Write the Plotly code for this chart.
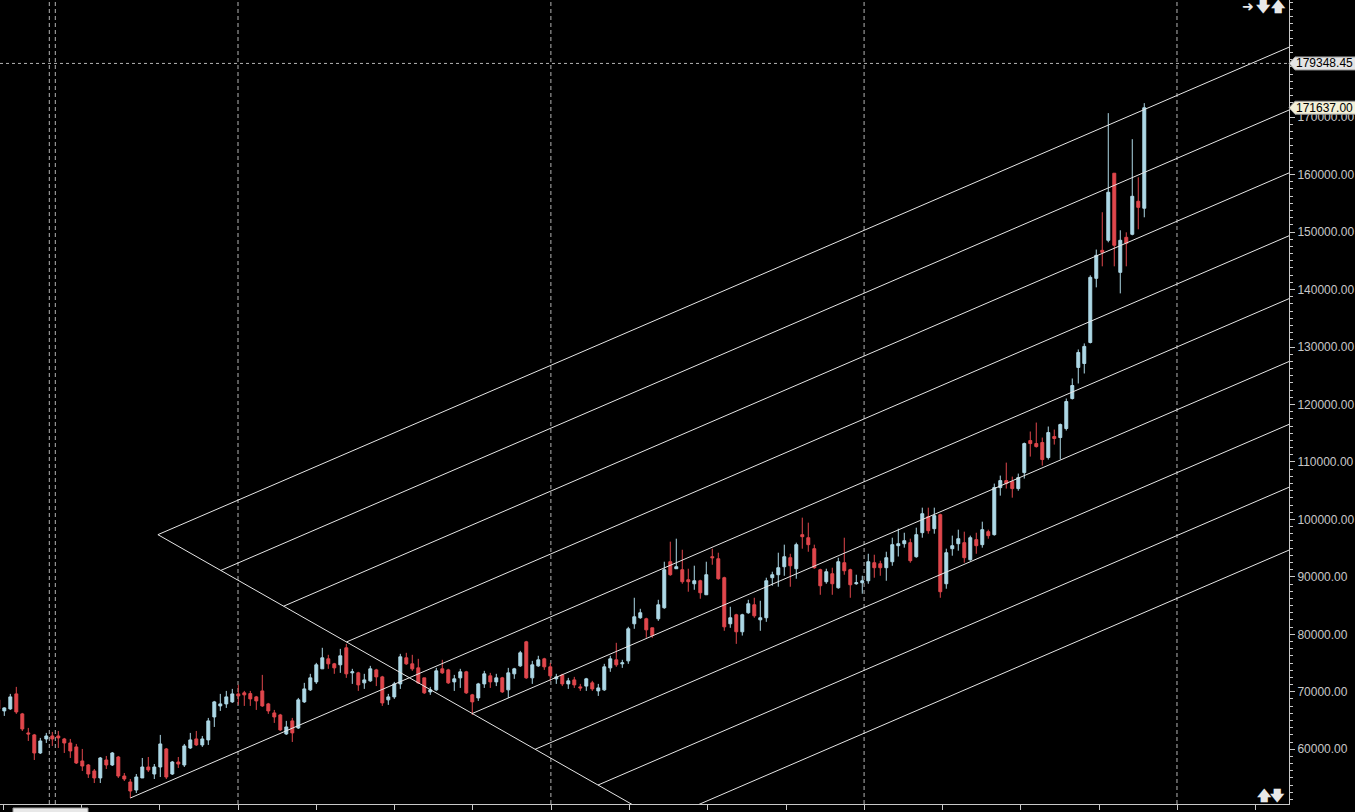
import plotly.graph_objects as go

# ---------------- data (weekly candles, index -1 .. 190) ----------------
bar_index = list(range(-1, 191))
opens = [68600, 66670, 67020, 69630, 66150, 62840, 62490, 59350, 61790, 62310,
         62310, 61790, 61090, 60400, 57960, 57260, 56220, 55000, 58130, 57260,
         58650, 55340, 54300, 52900, 55000, 56910, 55690, 56910, 60050, 55690,
         57780, 57260, 60220, 61790, 60750, 61620, 65620, 67540, 67890, 68240,
         69630, 69810, 69680, 69110, 70150, 67890, 66320, 65970, 62660, 64930,
         63700, 68240, 70330, 71720, 73990, 75730, 74860, 74690, 77650, 73290,
         73290, 71550, 71900, 73810, 72590, 68590, 69110, 71370, 75910, 74860,
         74160, 72420, 69980, 70330, 73990, 73810, 71720, 72420, 73470, 69460,
         68930, 71370, 72770, 71720, 72420, 70330, 73120, 74510, 78690, 72420,
         74510, 75730, 74340, 72250, 72940, 71370, 72070, 70850, 70990, 71550,
         70150, 70330, 74160, 75560, 74860, 75380, 81830, 82880, 82700, 81130,
         82700, 84620, 92630, 91410, 91240, 89500, 88800, 89320, 86880, 93500,
         93150, 89850, 81830, 83400, 80440, 83750, 85140, 82520, 82880, 89850,
         90370, 91760, 93330, 91410, 97340, 96810, 94900, 91240, 89150, 90540,
         88100, 92460, 91240, 88800, 88970, 89320, 92460, 92280, 91590, 92630,
         95420, 95770, 95950, 93500, 97690, 100470, 98380, 100820, 88800, 94900,
         95770, 95950, 92980, 96470, 95600, 97860, 97340, 105530, 106750, 106580,
         105360, 108140, 113710, 113190, 113370, 110760, 114420, 114240, 115810, 121030,
         126440, 127130, 130790, 141950, 146820, 148570, 160240, 142990, 149090, 149610,
         155360, 154150]
highs = [69000, 67300, 69630, 70850, 66320, 63710, 62660, 61970, 62840, 63010,
         63180, 61970, 61790, 60920, 60050, 57430, 56560, 58650, 58830, 59520,
         58830, 55860, 54820, 55690, 58480, 58650, 57430, 62490, 60220, 57960,
         58650, 60920, 62840, 63180, 62310, 65450, 68410, 69630, 70150, 70500,
         71200, 70150, 70150, 69280, 72940, 68060, 66840, 66150, 64930, 65450,
         68930, 71550, 73120, 75030, 77650, 76430, 75030, 77470, 78340, 73990,
         73470, 73120, 74510, 73990, 72770, 69630, 71720, 76600, 76780, 76430,
         75730, 72420, 70850, 74160, 75560, 73990, 72940, 73990, 73640, 69630,
         71550, 73640, 73290, 73120, 72590, 74160, 74160, 77120, 78860, 75380,
         76260, 75910, 75030, 73120, 73120, 72420, 72590, 71370, 72420, 71900,
         71370, 74860, 76260, 78520, 75560, 81300, 86360, 84440, 82880, 81130,
         86010, 92630, 96120, 96640, 94720, 91410, 91940, 89500, 92630, 94900,
         94200, 90020, 84790, 83570, 83570, 86010, 86360, 85840, 89850, 90890,
         94200, 95600, 94020, 95950, 100300, 99430, 95600, 91410, 91410, 91590,
         93330, 96810, 91410, 90370, 90190, 94020, 93850, 92800, 94370, 96810,
         98380, 97680, 96640, 98560, 102040, 102040, 102040, 100990, 94900, 97170,
         98210, 97860, 97170, 97680, 99600, 98210, 106230, 107620, 109880, 107440,
         107970, 113370, 115290, 116850, 114240, 116160, 115630, 116680, 121030, 124520,
         129570, 130620, 142470, 146960, 153450, 170700, 160240, 150310, 149960, 166170,
         159540, 172440]
lows = [66300, 65800, 66850, 66150, 63180, 61440, 58130, 59170, 61090, 60570,
        60220, 59350, 58480, 57430, 56220, 55000, 54120, 54120, 56560, 57080,
        55000, 54470, 51510, 52380, 55000, 56040, 54820, 55170, 54820, 55520,
        56740, 56910, 60050, 60570, 60400, 60750, 63880, 66670, 67190, 68060,
        67720, 67540, 67540, 66840, 67370, 66150, 64580, 63180, 62490, 61270,
        63530, 68060, 70150, 71370, 73990, 73990, 73120, 73290, 72420, 71370,
        70150, 70500, 71720, 70990, 67540, 67720, 68760, 70500, 74690, 73640,
        71370, 69630, 69460, 70150, 73120, 71370, 70150, 70670, 69630, 65970,
        68410, 70670, 70670, 70990, 69800, 68930, 72250, 74340, 72250, 71370,
        74340, 73810, 71900, 71370, 70990, 70500, 70670, 70150, 70150, 70150,
        69280, 70150, 73470, 74340, 74160, 74860, 80960, 82700, 79390, 79390,
        82340, 84440, 90190, 91410, 88800, 87410, 87750, 86190, 86880, 92110,
        89500, 80610, 81130, 78340, 79780, 83570, 82880, 80610, 82170, 88450,
        88280, 90190, 88280, 89670, 94900, 94370, 91410, 86880, 88800, 86880,
        87930, 90370, 86360, 88620, 87060, 88800, 89850, 90190, 89320, 91930,
        93540, 95080, 92460, 93330, 96810, 97510, 97510, 86360, 87930, 93680,
        94550, 92460, 92800, 94020, 95080, 96640, 97170, 104130, 105360, 103780,
        104990, 107100, 110930, 112490, 109360, 110410, 113020, 110410, 115460, 120860,
        123650, 125390, 130620, 140380, 144040, 148220, 144040, 139330, 144040, 149440,
        150480, 152570]
closes = [67000, 67190, 69110, 66490, 63530, 62660, 59350, 61440, 62310, 61790,
          61970, 61090, 59700, 57610, 57080, 55690, 55000, 58480, 57260, 59350,
          55340, 54820, 52730, 55170, 56910, 56390, 56910, 60920, 55170, 57780,
          57430, 60570, 61620, 60750, 61790, 64930, 68240, 67890, 69110, 69630,
          69280, 69460, 68760, 68410, 67540, 66670, 65620, 63360, 63880, 62840,
          68590, 70500, 72420, 74690, 75910, 74860, 74160, 76260, 73120, 73470,
          71200, 72070, 73990, 72590, 68060, 69110, 71370, 76080, 74860, 73990,
          71550, 69810, 70330, 73640, 73290, 71550, 72250, 73470, 69810, 68240,
          71370, 73120, 71720, 72420, 69980, 73290, 73990, 76780, 72420, 74690,
          75560, 74340, 72770, 72590, 71370, 71900, 71200, 70670, 72250, 70500,
          70670, 74340, 75730, 74690, 75030, 80960, 83050, 83750, 80780, 79780,
          85140, 91240, 90370, 91760, 89150, 89150, 89320, 87230, 90370, 93330,
          89670, 81300, 82880, 80440, 83400, 85320, 83220, 82880, 89320, 90370,
          91590, 93500, 91930, 95600, 96990, 95600, 91590, 88450, 90890, 88800,
          92630, 91060, 88620, 88970, 89320, 92630, 91590, 91590, 93330, 95600,
          95770, 96290, 92810, 97340, 100990, 98030, 100650, 87410, 94200, 95420,
          96640, 93330, 96810, 95420, 98210, 97170, 105530, 106750, 106230, 105360,
          107270, 113190, 113190, 112670, 110410, 115110, 114070, 116500, 120510, 123300,
          129050, 130100, 142120, 145950, 146480, 156930, 147700, 148570, 148050, 156230,
          154300, 171637]

price_ticks = [60000, 70000, 80000, 90000, 100000, 110000, 120000,
               130000, 140000, 150000, 160000, 170000]
separators = [7.5, 8.5, 38.95, 91.1, 143.3, 195.45]   # dashed period separators (bar units)
hline_price = 179348.45
last_price = 171637.00

# channel drawing parameters (bar index / price)
base_idx, base_price = 21, 51510        # anchor at the swing low
channel_slope = 450                     # price per bar
level_spacing = 10940                   # price between parallel levels
levels = [4, 3, 2, 1, 0, -1, -2, -3, -4]
diag_idx = 25.6                         # vertex of the cross line (on top level)
diag_slope = -594                       # price per bar

# ---------------- figure ----------------
X_RANGE = [-0.717, 214.12]
Y_RANGE = [50469, 190387]
PLOT_W, PLOT_H = 1289, 804

fig = go.Figure()

# channel lines
diag_price = base_price + channel_slope * (diag_idx - base_idx) + levels[0] * level_spacing
x_end = 235
for m in levels:
    if m == 0:
        xs = base_idx
    else:
        xs = (diag_price - diag_slope * diag_idx - base_price + channel_slope * base_idx
              - m * level_spacing) / (channel_slope - diag_slope)
    ys = base_price + channel_slope * (xs - base_idx) + m * level_spacing
    ye = base_price + channel_slope * (x_end - base_idx) + m * level_spacing
    fig.add_trace(go.Scatter(x=[xs, x_end], y=[ys, ye], mode="lines",
                             line=dict(color="#e6e6e6", width=1),
                             hoverinfo="skip", showlegend=False))
x_diag_end = 140
fig.add_trace(go.Scatter(x=[diag_idx, x_diag_end],
                         y=[diag_price, diag_price + diag_slope * (x_diag_end - diag_idx)],
                         mode="lines", line=dict(color="#e6e6e6", width=1),
                         hoverinfo="skip", showlegend=False))

fig.add_trace(go.Candlestick(
    x=bar_index, open=opens, high=highs, low=lows, close=closes,
    increasing=dict(line=dict(color="#add8e6", width=1), fillcolor="#add8e6"),
    decreasing=dict(line=dict(color="#e0474c", width=1), fillcolor="#e0474c"),
    whiskerwidth=0, showlegend=False))

shapes = []
for s in separators:
    shapes.append(dict(type="line", xref="x", yref="paper", x0=s, x1=s, y0=0, y1=1,
                       line=dict(color="#b4b4b4", width=1, dash="4px,3px"), layer="below"))
shapes.append(dict(type="line", xref="paper", yref="y", x0=0, x1=1,
                   y0=hline_price, y1=hline_price,
                   line=dict(color="#b4b4b4", width=1, dash="3px,3px")))

# price label boxes on the right axis
px_per_price = PLOT_H / (Y_RANGE[1] - Y_RANGE[0])
half_h = 6.5 / px_per_price
def label_box(price, fill):
    p = 6 / PLOT_W
    w = 70 / PLOT_W
    path = (f"M 1,{price} L {1+p},{price+half_h} L {1+w},{price+half_h} "
            f"L {1+w},{price-half_h} L {1+p},{price-half_h} Z")
    return dict(type="path", xref="paper", yref="y", path=path,
                fillcolor=fill, line=dict(color="#9a9a9a", width=1))
shapes.append(label_box(hline_price, "#e4e4e4"))
shapes.append(label_box(last_price, "#f3f0d8"))

# partially visible time label at the bottom left
shapes.append(dict(type="rect", xref="paper", yref="paper",
                   x0=13 / PLOT_W, x1=88 / PLOT_W, y0=-12 / PLOT_H, y1=-4 / PLOT_H,
                   fillcolor="#e8e8e8", line=dict(color="#9a9a9a", width=1)))

annotations = [
    dict(xref="paper", yref="y", x=1 + 5 / PLOT_W, y=last_price, xanchor="left",
         yanchor="middle", text=f"{last_price:.2f}", showarrow=False,
         font=dict(family="Liberation Sans", size=12, color="#000000")),
    dict(xref="paper", yref="y", x=1 + 5 / PLOT_W, y=hline_price, xanchor="left",
         yanchor="middle", text=f"{hline_price:.2f}", showarrow=False,
         font=dict(family="Liberation Sans", size=12, color="#000000")),
    dict(xref="paper", yref="paper", x=16 / PLOT_W, y=-5 / PLOT_H, xanchor="left",
         yanchor="top", text="2021.10.17 00:00", showarrow=False,
         font=dict(family="Liberation Sans", size=11, color="#000000")),
]
for txt, xp, yp in [("➜", 1248, 6), ("🡇", 1263, 6), ("🡅", 1278, 6),
                    ("🡅", 1264, 795), ("🡇", 1277, 795)]:
    annotations.append(dict(xref="paper", yref="paper", x=xp / PLOT_W, y=1 - yp / PLOT_H,
                            text=f"<b>{txt}</b>", showarrow=False, xanchor="center",
                            yanchor="middle",
                            font=dict(family="DejaVu Sans", size=14, color="#e8e8e8")))

fig.update_layout(
    width=1355, height=812,
    margin=dict(l=0, r=66, t=0, b=8, autoexpand=False),
    paper_bgcolor="#000000", plot_bgcolor="#000000",
    showlegend=False, shapes=shapes, annotations=annotations,
    xaxis=dict(range=X_RANGE, rangeslider=dict(visible=False), showgrid=False,
               zeroline=False, showline=True, linecolor="#c8c8c8", linewidth=1,
               ticks="outside", ticklen=5, tickcolor="#c8c8c8",
               tick0=38.95, dtick=13.05, showticklabels=False),
    yaxis=dict(range=Y_RANGE, side="right", showgrid=False, zeroline=False,
               showline=True, linecolor="#c8c8c8", linewidth=1,
               ticks="outside", ticklen=5, tickcolor="#c8c8c8",
               tickvals=price_ticks, ticktext=[f"{v:.2f}" for v in price_ticks],
               tickfont=dict(family="Liberation Sans", size=12, color="#c8c8c8"),
               minor=dict(dtick=1250, ticklen=3, tickcolor="#c8c8c8", ticks="outside")),
)

fig.write_html("out.html",
               config={"displayModeBar": False},
               post_script="document.body.style.margin='0px';"
                           "document.body.style.background='#000000';")
